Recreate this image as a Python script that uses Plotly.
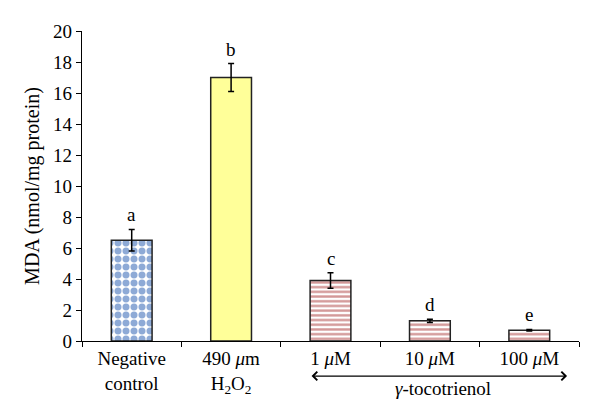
import plotly.graph_objects as go

categories = ["Negative<br>control", "490 <i>μ</i>m<br>H<sub>2</sub>O<sub>2</sub>",
              "1 <i>μ</i>M", "10 <i>μ</i>M", "100 <i>μ</i>M"]
mda = [6.5, 17.0, 3.9, 1.3, 0.7]
err = [0.7, 0.9, 0.5, 0.1, 0.05]
letters = ["a", "b", "c", "d", "e"]
y_ticks = list(range(0, 21, 2))
group_label = "<i>γ</i>-tocotrienol"

FONT = "Liberation Serif, DejaVu Serif, Times New Roman, serif"

# style per bar: (background, pattern shape, pattern colour, pattern size, solidity)
styles = [
    ("#FFFFFF", ".", "#8EAAD6", 8, 0.6),
    ("#FFFF99", "", "#FFFF99", 8, 0.3),
    ("#FFFFFF", "-", "#D29696", 4.7, 0.5),
    ("#FFFFFF", "-", "#D29696", 4.7, 0.5),
    ("#FFFFFF", "-", "#D29696", 4.7, 0.5),
]

fig = go.Figure()
for c, v, e, st in zip(categories, mda, err, styles):
    bg, shape, fg, size, sol = st
    fig.add_trace(go.Bar(
        x=[c], y=[v], width=0.41,
        marker=dict(
            color=bg,
            line=dict(color="#222222", width=1.5),
            pattern=dict(shape=shape, fgcolor=fg, bgcolor=bg, size=size,
                         solidity=sol, fillmode="replace"),
        ),
        error_y=dict(type="data", array=[e], color="black", thickness=1.5, width=3),
        showlegend=False,
    ))

for c, v, e, l in zip(categories, mda, err, letters):
    fig.add_annotation(x=c, y=v + e, text=l, showarrow=False, yanchor="bottom",
                       yshift=2, font=dict(family=FONT, size=19, color="black"))

# double-headed arrow under tocotrienol groups
fig.add_annotation(x=4.38, y=-0.113, xref="x", yref="paper",
                   ax=-257, ay=0, axref="pixel", ayref="pixel",
                   text="", showarrow=True,
                   arrowside="end+start", arrowhead=4, startarrowhead=4,
                   arrowsize=1.3, startarrowsize=1.3, arrowwidth=1.3,
                   arrowcolor="black", standoff=0, startstandoff=0)
fig.add_annotation(x=3.13, y=-0.152, xref="x", yref="paper", text=group_label,
                   showarrow=False, xanchor="center", yanchor="middle",
                   font=dict(family=FONT, size=19, color="black"))

fig.update_layout(
    width=592, height=412,
    margin=dict(l=74, r=21, t=23, b=79),
    paper_bgcolor="white", plot_bgcolor="white",
    font=dict(family=FONT, size=19, color="black"),
    barmode="overlay",
)
fig.update_xaxes(showline=True, linecolor="black", linewidth=1.3, ticks="outside",
                 tickson="boundaries", ticklen=5, tickcolor="black", showgrid=False,
                 tickfont=dict(family=FONT, size=19))
fig.update_yaxes(range=[0, 20], tickvals=y_ticks, showline=True, linecolor="black",
                 linewidth=1.3, ticks="outside", ticklen=5, tickcolor="black",
                 showgrid=False, zeroline=False,
                 title=dict(text="MDA (nmol/mg protein)", font=dict(family=FONT, size=20),
                            standoff=8),
                 tickfont=dict(family=FONT, size=19))

fig.write_html("out.html")
